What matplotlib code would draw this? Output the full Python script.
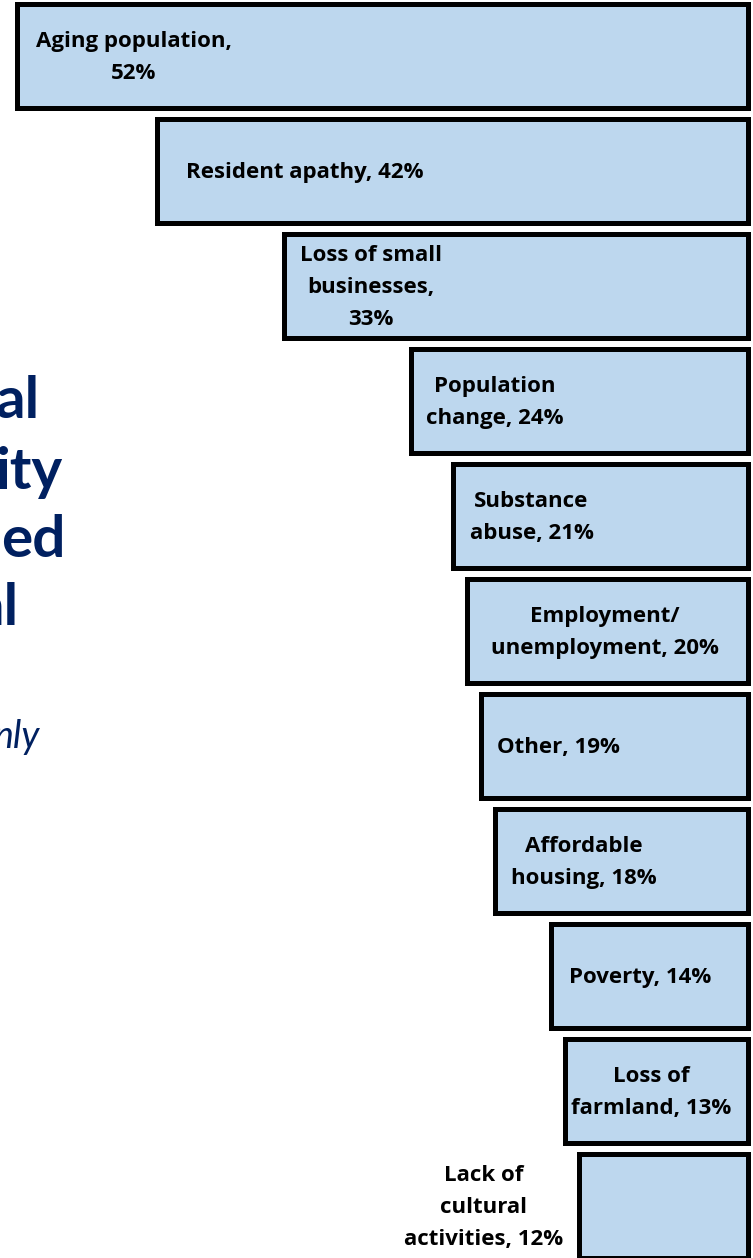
import matplotlib
matplotlib.use("Agg")
import matplotlib.pyplot as plt

# ---- data ----
categories = [
    "Aging population,\n52%",
    "Resident apathy, 42%",
    "Loss of small\nbusinesses,\n33%",
    "Population\nchange, 24%",
    "Substance\nabuse, 21%",
    "Employment/\nunemployment, 20%",
    "Other, 19%",
    "Affordable\nhousing, 18%",
    "Poverty, 14%",
    "Loss of\nfarmland, 13%",
    "Lack of\ncultural\nactivities, 12%",
]
values = [52, 42, 33, 24, 21, 20, 19, 18, 14, 13, 12]
# label centre positions (in % units along the reversed axis)
label_x = [43.7, 31.5, 26.8, 18.0, 15.4, 10.2, 13.5, 11.7, 7.7, 6.9, 18.8]

title_frags = ["al", "ity", "ed", "al"]

FILL = "#BDD7EE"
NAVY = "#002060"
LABEL_FONT = ["Open Sans", "DejaVu Sans"]
TITLE_FONT = ["Lato", "DejaVu Sans"]

fig = plt.figure(figsize=(7.53, 12.58), dpi=100)
ax = fig.add_axes([0, 0, 1, 1])

ypos = list(range(len(values)))
ax.barh(ypos, values, height=0.896, color=FILL, edgecolor="black",
        linewidth=3.6, zorder=2)

for y, lab, lx in zip(ypos, categories, label_x):
    ax.text(lx, y + 0.015, lab, ha="center", va="center", fontsize=16,
            fontweight="bold", family=LABEL_FONT, linespacing=1.7,
            color="black", zorder=3)

ax.set_xlim(53.2, -0.356)
ax.set_ylim(10.452, -0.487)
ax.axis("off")

# cropped title fragments on the left
title_right = [40, 62, 65, 19]
title_base = [418, 489, 557, 625]
for frag, xr, yb in zip(title_frags, title_right, title_base):
    fig.text(xr / 753, 1 - yb / 1258, frag, ha="right", va="baseline",
             fontsize=42, fontweight="bold", color=NAVY, family=TITLE_FONT)
fig.text(40 / 753, 1 - 748 / 1258, "nly", ha="right", va="baseline",
         fontsize=27, style="italic", color=NAVY, family=TITLE_FONT)

fig.savefig("out.png", dpi=100)
